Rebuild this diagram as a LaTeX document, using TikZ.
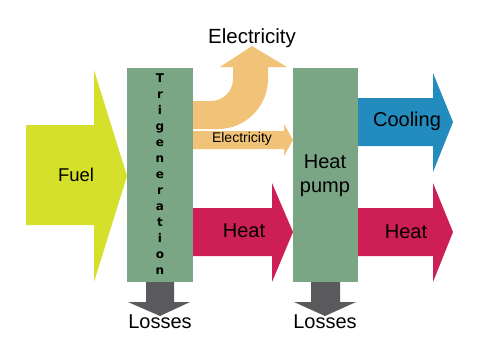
\documentclass[tikz,border=0pt]{standalone}
\usepackage{fontspec}
\setmainfont{Liberation Sans}
\newfontfamily\heavyfont{DejaVu Sans}
\definecolor{boxgreen}{HTML}{7AA686}
\definecolor{fuelyellow}{HTML}{D5E02B}
\definecolor{elec}{HTML}{F0C378}
\definecolor{coolblue}{HTML}{238CBE}
\definecolor{heatred}{HTML}{CD1E55}
\definecolor{lossgray}{HTML}{5A5A5C}
\begin{document}
\begin{tikzpicture}[x=1pt,y=-1pt,
  unit/.style={draw=none,fill=boxgreen,inner sep=0pt,anchor=north west},
  lbl/.style={font=\fontsize{20}{24}\selectfont,text=black,inner sep=0pt},
  trigletters/.style={font=\heavyfont\fontsize{12}{16}\selectfont\bfseries,align=center,inner sep=0pt}
]
\useasboundingbox[fill=white] (0,0) rectangle (480,360);

% arrows (drawn first)
\fill[fuelyellow] (26,125) -- (94,125) -- (94,70) -- (127,176) -- (94,282) -- (94,225) -- (26,225) -- cycle;
\fill[elec] (193,101) -- (211,101) .. controls (223.2,101) and (233,91.2) .. (233,79)
  -- (233,67) -- (220,67) -- (252,46) -- (287,67) -- (268,67) -- (268,79)
  .. controls (268,106.6) and (245.6,129) .. (218,129) -- (193,129) -- cycle;
\fill[elec] (193,131) -- (284,131) -- (284,124) -- (293,140) -- (284,156) -- (284,149) -- (193,149) -- cycle;
\fill[heatred] (193,208) -- (272,208) -- (272,183) -- (293,232) -- (272,282) -- (272,256) -- (193,256) -- cycle;
\fill[coolblue] (358,98) -- (433,98) -- (433,73) -- (453,122) -- (433,172) -- (433,146) -- (358,146) -- cycle;
\fill[heatred] (358,208) -- (433,208) -- (433,183) -- (453,232) -- (433,282) -- (433,256) -- (358,256) -- cycle;
\fill[lossgray] (146,281) -- (174,281) -- (174,302) -- (190,302) -- (160,316) -- (128,302) -- (146,302) -- cycle;
\fill[lossgray] (311,281) -- (340,281) -- (340,302) -- (356,302) -- (325,316) -- (294,302) -- (311,302) -- cycle;

% units
\node[unit,minimum width=66pt,minimum height=214pt] (trig) at (127,68) {};
\node[unit,minimum width=65pt,minimum height=214pt] (hp) at (293,68) {};

% texts
\node[trigletters] (trigtxt) at (160,174) {T\\r\\i\\g\\e\\n\\e\\r\\a\\t\\i\\o\\n};
\node[lbl,align=center] (hptxt) at (325,176) {Heat\\pump};
\node[lbl,font=\fontsize{18.5}{22}\selectfont] (fuel) at (76,175) {Fuel};
\node[lbl,font=\fontsize{20.5}{24}\selectfont] (elecbig) at (252,38) {Electricity};
\node[lbl,font=\fontsize{14}{16}\selectfont] (elecsmall) at (242,139) {Electricity};
\node[lbl] (heat1) at (244,231) {Heat};
\node[lbl] (cool) at (407,121) {Cooling};
\node[lbl] (heat2) at (406,232) {Heat};
\node[lbl] (loss1) at (160,322) {Losses};
\node[lbl] (loss2) at (325,322) {Losses};
\end{tikzpicture}
\end{document}
